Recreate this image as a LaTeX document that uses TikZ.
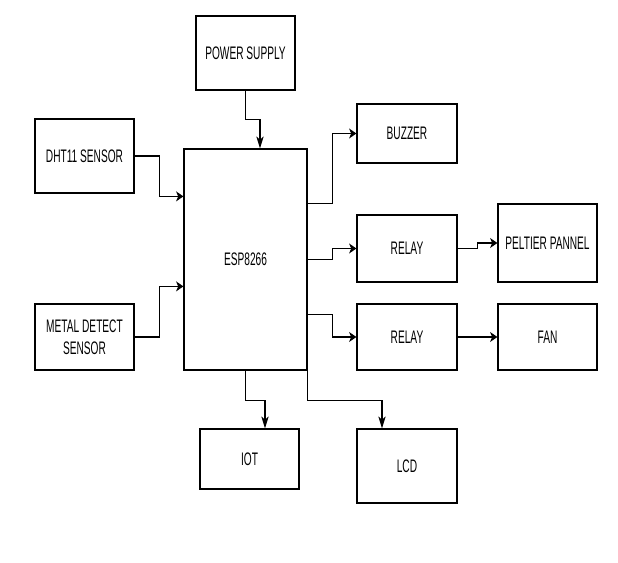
\documentclass[tikz,border=0pt]{standalone}
\usepackage{fontspec}
\usetikzlibrary{arrows.meta, positioning, calc}
\newfontfamily\blockfont[FakeStretch=0.56]{Liberation Sans}

\begin{document}
\begin{tikzpicture}[x=0.75pt,y=-0.75pt,line width=0.8pt,draw=black]
    \tikzstyle{block}=[rectangle,draw=black,line width=0.9pt,inner sep=1pt,align=center,
        font={\blockfont\fontsize{13.6}{16.5}\selectfont}]
    \tikzstyle{harrow}=[-{Stealth[length=5.5pt,width=7.5pt,inset=1.6pt]}]
    \tikzstyle{varrow}=[-{Stealth[length=9pt,width=5.5pt,inset=2.6pt]}]

    \useasboundingbox (0,0) rectangle (618,563);

    % Draw the controller and its supply
    \node[block, minimum width=92.25pt, minimum height=165.75pt] (esp) at (245.5,259.5) {ESP8266};
    \node[block, minimum width=74.25pt, minimum height=55.5pt] (ps) at (245.5,53) {POWER SUPPLY};

    % Draw the sensor nodes
    \node[block, minimum width=74.25pt, minimum height=55.5pt] (dht) at (84.5,156) {DHT11 SENSOR};
    \node[block, minimum width=74.25pt, minimum height=49.5pt] (metal) at (84.5,337) {METAL DETECT\\SENSOR};

    % Draw the output nodes
    \node[block, minimum width=75pt, minimum height=44.25pt] (buzzer) at (407,133.5) {BUZZER};
    \node[block, minimum width=75pt, minimum height=50.25pt] (relay1) at (407,248.5) {RELAY};
    \node[block, minimum width=75pt, minimum height=49.5pt] (relay2) at (407,337) {RELAY};
    \node[block, minimum width=74.25pt, minimum height=58.5pt] (peltier) at (547.5,243) {PELTIER PANNEL};
    \node[block, minimum width=74.25pt, minimum height=49.5pt] (fan) at (547.5,337) {FAN};
    \node[block, minimum width=74.25pt, minimum height=45pt] (iot) at (249.5,459) {IOT};
    \node[block, minimum width=75pt, minimum height=55.5pt] (lcd) at (407,466) {LCD};

    % Connect the inputs to the controller
    \draw[varrow] (ps.south) -- ++(0,29) -| ($(esp.north)+(14.5,0)$);
    \draw[harrow] (dht.east) -- ++(25,0) |- ($(esp.north west)+(0,48)$);
    \draw[harrow] (metal.east) -- ++(25,0) |- ($(esp.north west)+(0,138)$);

    % Connect the controller to the outputs
    \draw[harrow] ($(esp.north east)+(0,55)$) -- ++(25,0) |- (buzzer.west);
    \draw[harrow] ($(esp.north east)+(0,111)$) -- ++(25,0) |- (relay1.west);
    \draw[harrow] ($(esp.north east)+(0,166)$) -- ++(25,0) |- (relay2.west);
    \draw[harrow] (relay1.east) -- ++(20,0) |- (peltier.west);
    \draw[harrow] (relay2.east) -- (fan.west);
    \draw[varrow] (esp.south) -- ++(0,30) -| ($(iot.north)+(15.5,0)$);
    \draw[varrow] (esp.south east) -- ++(0,30) -| ($(lcd.north)+(-25,0)$);
\end{tikzpicture}
\end{document}
